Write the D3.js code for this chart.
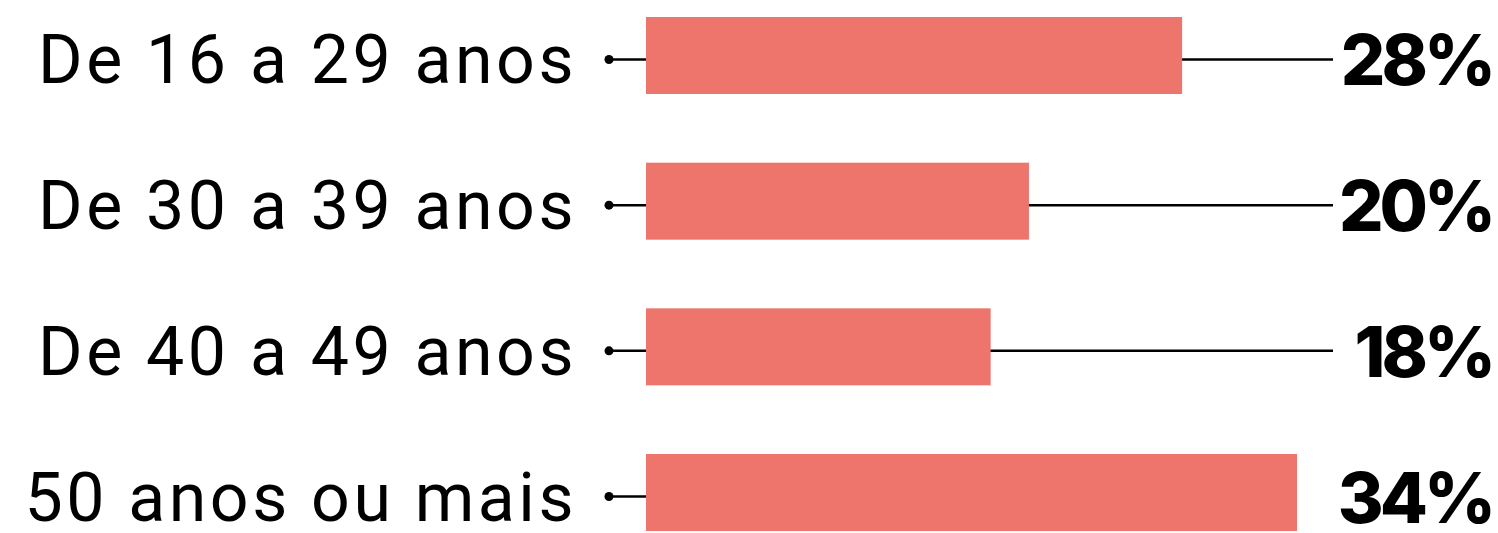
<!DOCTYPE html>
<html>
<head>
<meta charset="utf-8">
<script src="https://cdn.jsdelivr.net/npm/d3@7"></script>
<style>
  body { margin: 0; background: #fff; }
  .label { font-family: Roboto, "Noto Sans", sans-serif; font-weight: 400; font-size: 68px; letter-spacing: 3.5px; fill: #000; }
  .value { font-family: Inter, Roboto, sans-serif; font-weight: 800; font-size: 70px; letter-spacing: -4px; fill: #000; }
</style>
</head>
<body>
<div id="chart"></div>
<script>
// data
var categories = ["De 16 a 29 anos", "De 30 a 39 anos", "De 40 a 49 anos", "50 anos ou mais"];
var values = [28, 20, 18, 34];
var valueLabels = ["28%", "20%", "18%", "34%"];

var width = 1498;
var height = 533;

var svg = d3
  .select("#chart")
  .append("svg")
  .attr("width", width)
  .attr("height", height);

var data = categories.map(function(c, i) {
  return { cat: c, value: values[i], label: valueLabels[i] };
});

// scales
var xScale = d3
  .scaleLinear()
  .domain([0, d3.max(values)])
  .range([646, 1297]);

var yScale = d3
  .scaleBand()
  .domain(categories)
  .range([17, 531])
  .paddingInner(0.4714)
  .paddingOuter(0);

var dotX = 609;
var valueRight = 1492;
var lineEnd = 1333;

var rows = svg
  .selectAll(".row")
  .data(data)
  .enter()
  .append("g")
  .attr("class", "row");

function lineY(d) {
  return yScale(d.cat) + yScale.bandwidth() / 2 + 4;
}

// leader lines (stop at the bar when the bar runs into the value label)
rows
  .append("line")
  .attr("x1", dotX)
  .attr("x2", function(d) {
    return xScale(d.value) > lineEnd - 45 ? xScale(0) : lineEnd;
  })
  .attr("y1", lineY)
  .attr("y2", lineY)
  .attr("stroke", "#000")
  .attr("stroke-width", 2.5);

rows
  .append("circle")
  .attr("cx", dotX)
  .attr("cy", lineY)
  .attr("r", 4.5)
  .attr("fill", "#000");

// bars
rows
  .append("rect")
  .attr("x", xScale(0))
  .attr("y", function(d) {
    return yScale(d.cat);
  })
  .attr("width", function(d) {
    return xScale(d.value) - xScale(0);
  })
  .attr("height", yScale.bandwidth())
  .style("fill", "#ee756c");

// category labels
rows
  .append("text")
  .attr("class", "label")
  .attr("x", 577)
  .attr("y", function(d) {
    return lineY(d) + 24;
  })
  .attr("text-anchor", "end")
  .text(function(d) {
    return d.cat;
  });

// value labels
rows
  .append("text")
  .attr("class", "value")
  .attr("x", valueRight)
  .attr("y", function(d) {
    return lineY(d) + 26;
  })
  .attr("text-anchor", "end")
  .text(function(d) {
    return d.label;
  });
</script>
</body>
</html>
